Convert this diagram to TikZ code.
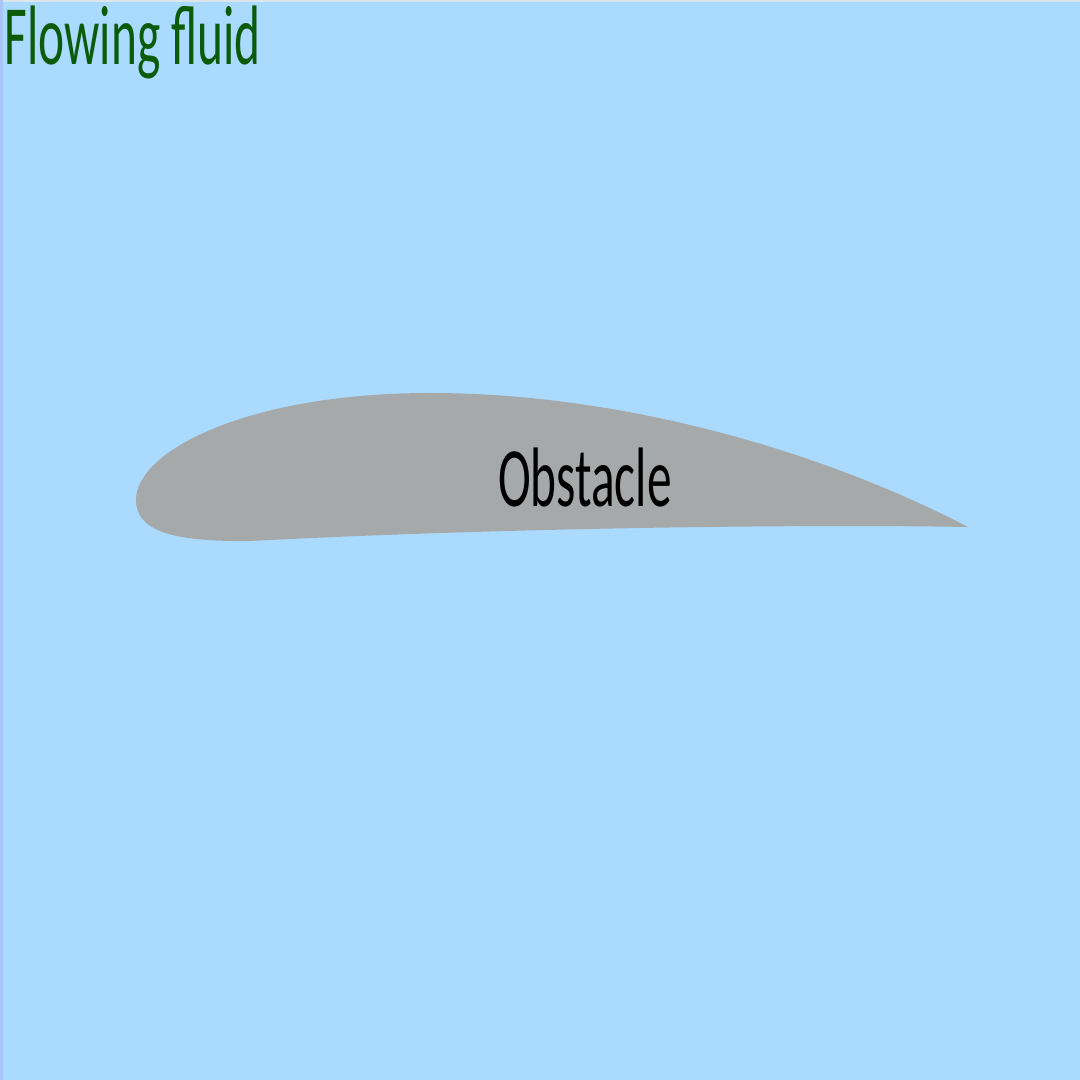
\documentclass[tikz,border=0pt]{standalone}
\usepackage{fontspec}
\setmainfont{Carlito}
\definecolor{fluidbg}{HTML}{AADBFE}
\definecolor{leftedge}{HTML}{A9C4F8}
\definecolor{topedge}{HTML}{DCE5EC}
\definecolor{foilgray}{HTML}{A6A9A9}
\definecolor{labelgreen}{HTML}{0B5B0B}
\begin{document}
\begin{tikzpicture}[x=0.01cm,y=-0.01cm,
  lbl/.style={inner sep=0pt,font=\fontsize{24}{28}\selectfont}]
\useasboundingbox (0,0) rectangle (1080,1080);
\fill[fluidbg] (0,0) rectangle (1080,1080);
\fill[topedge] (0,0) rectangle (1080,2);
\fill[leftedge] (0,0) rectangle (3,1080);
% airfoil obstacle
\fill[foilgray] (968,527) .. controls (820,450) and (620,393) .. (430,393)
  .. controls (250,393) and (136,450) .. (136,500)
  .. controls (136,530) and (170,542) .. (250,541)
  .. controls (500,528) and (800,524) .. (968,527) -- cycle;
\node[lbl,anchor=base west,text=labelgreen] (fluid) at (4,65) {\scalebox{0.585}[1]{Flowing fluid}};
\node[lbl,anchor=base,text=black] (obstacle) at (585,507) {\scalebox{0.585}[1]{Obstacle}};
\end{tikzpicture}
\end{document}
